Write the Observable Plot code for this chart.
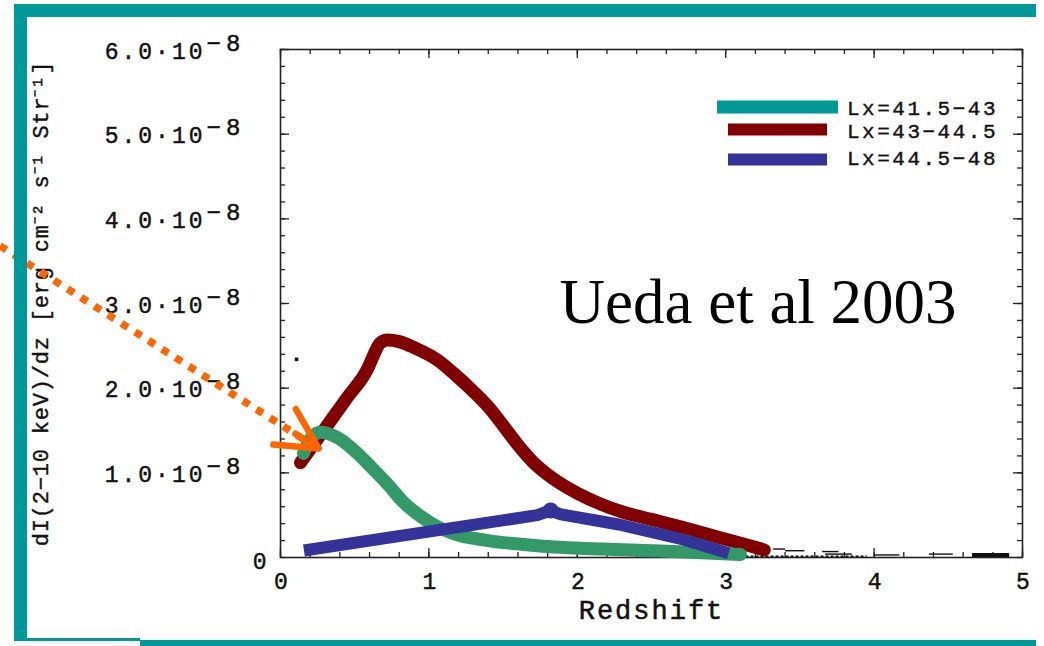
<!DOCTYPE html>
<html>
<head>
<meta charset="utf-8">
<script src="https://cdn.jsdelivr.net/npm/d3@7"></script>
<script src="https://cdn.jsdelivr.net/npm/@observablehq/plot@0.6"></script>
<style>
  body { margin: 0; background: #fff; }
  #wrap { position: relative; width: 1044px; height: 646px; overflow: hidden; background: #fff; }
  #wrap svg { position: absolute; left: 0; top: 0; }
  .band { position: absolute; background: #009999; }
</style>
</head>
<body>
<div id="wrap"></div>
<script>
// Luminosity classes (log Lx ranges) and their colours
const seriesNames = ["Lx=41.5−43", "Lx=43−44.5", "Lx=44.5−48"];
const seriesColors = ["#339966", "#800000", "#333399"];
const legendColors = ["#009999", "#800000", "#333399"];

// dI/dz in units of 1e-8 erg cm^-2 s^-1 Str^-1, against redshift
const zLow = [0.155, 0.21, 0.27, 0.38, 0.50, 0.61, 0.72, 0.83, 0.95, 1.06, 1.17, 1.40, 1.73, 2.16, 2.50, 2.80, 3.10];
const vLow = [1.23, 1.42, 1.48, 1.42, 1.26, 1.07, 0.87, 0.65, 0.48, 0.36, 0.28, 0.20, 0.14, 0.10, 0.08, 0.06, 0.035];

const zMid = [0.135, 0.27, 0.45, 0.59, 0.63, 0.67, 0.72, 0.80, 0.90, 1.06, 1.17, 1.30, 1.40, 1.50, 1.60, 1.70, 1.80, 1.90, 2.00, 2.16, 2.30, 2.50, 2.72, 2.95, 3.18, 3.26];
const vMid = [1.12, 1.45, 1.89, 2.24, 2.40, 2.53, 2.57, 2.55, 2.48, 2.33, 2.17, 1.96, 1.78, 1.56, 1.33, 1.13, 0.98, 0.86, 0.76, 0.63, 0.54, 0.45, 0.35, 0.24, 0.13, 0.09];

const zHigh = [0.158, 1.73, 1.82, 1.89, 2.28, 2.72, 3.02];
const vHigh = [0.083, 0.50, 0.555, 0.51, 0.39, 0.21, 0.05];

// faint extra points and error dashes
const markZ = [0.108, 0.115];
const markV = [2.34, 1.10];
const dashZ1 = [3.32, 3.40, 3.65, 3.67, 4.00, 4.37];
const dashZ2 = [3.40, 3.53, 3.76, 3.85, 4.17, 4.53];
const dashV  = [0.10, 0.08, 0.07, 0.04, 0.03, 0.04];
const heavyZ1 = [4.66], heavyZ2 = [4.91], heavyV = [0.03];

// axis ticks
const xMajor = [0, 1, 2, 3, 4, 5];
const xLabels = ["0", "1", "2", "3", "4", "5"];
const xMinor = d3.range(0, 5.001, 0.2);
const yMajor = [1, 2, 3, 4, 5, 6];
const yMantissa = ["1.0·10", "2.0·10", "3.0·10", "4.0·10", "5.0·10", "6.0·10"];
const yExponent = ["−8", "−8", "−8", "−8", "−8", "−8"];
const yMinor = d3.range(0, 6.001, 0.2);
const unit = 1e-8;

const xTitle = "Redshift";
const yTitle = "dI(2−10 keV)/dz [erg cm⁻² s⁻¹ Str⁻¹]";
const note = "Ueda et al 2003";

const toRows = (zs, vs) => zs.map((z, i) => ({z, v: vs[i] * unit}));
const low = toRows(zLow, vLow), mid = toRows(zMid, vMid), high = toRows(zHigh, vHigh);

const W = 1044, H = 646, mL = 280, mR = 22, mT = 49, mB = 89;
const fw = W - mL - mR, fh = H - mT - mB;
const ink = {fill: "#111", stroke: "#111"};
const tickFont = {fontFamily: "Liberation Mono", fontSize: 23, strokeWidth: 0.45, ...ink};

const chart = Plot.plot({
  width: W, height: H,
  marginLeft: mL, marginRight: mR, marginTop: mT, marginBottom: mB,
  x: {domain: [0, 5], axis: null},
  y: {domain: [0, 6e-8], axis: null},
  style: {background: "white", overflow: "visible"},
  marks: [
    Plot.frame({stroke: "#222", strokeWidth: 1.6}),
    // inward ticks on all four sides
    Plot.tickY(yMinor, {y: d => d * unit, insetRight: fw - 5, stroke: "#222", strokeWidth: 1.3}),
    Plot.tickY(yMinor, {y: d => d * unit, insetLeft: fw - 5, stroke: "#222", strokeWidth: 1.3}),
    Plot.tickY(yMajor, {y: d => d * unit, insetRight: fw - 9, stroke: "#222", strokeWidth: 1.3}),
    Plot.tickY(yMajor, {y: d => d * unit, insetLeft: fw - 9, stroke: "#222", strokeWidth: 1.3}),
    Plot.tickX(xMinor, {x: d => d, insetTop: fh - 5, stroke: "#222", strokeWidth: 1.3}),
    Plot.tickX(xMinor, {x: d => d, insetBottom: fh - 5, stroke: "#222", strokeWidth: 1.3}),
    Plot.tickX(xMajor, {x: d => d, insetTop: fh - 9, stroke: "#222", strokeWidth: 1.3}),
    Plot.tickX(xMajor, {x: d => d, insetBottom: fh - 9, stroke: "#222", strokeWidth: 1.3}),
    // y tick labels written as mantissa·10 with a raised exponent
    Plot.text(yMajor, {y: d => d * unit, text: (d, i) => yMantissa[i], frameAnchor: "left", textAnchor: "end",
      lineAnchor: "bottom", dx: -75, dy: 9, ...tickFont}),
    Plot.text(yMajor, {y: d => d * unit, text: (d, i) => yExponent[i], frameAnchor: "left", textAnchor: "start",
      lineAnchor: "bottom", dx: -74, dy: 1, ...tickFont, fontSize: 24}),
    Plot.text([0], {y: 0, text: () => "0", frameAnchor: "left", textAnchor: "end",
      lineAnchor: "bottom", dx: -11, dy: 11, ...tickFont}),
    Plot.text(xMajor, {x: d => d, text: (d, i) => xLabels[i], frameAnchor: "bottom", textAnchor: "middle",
      lineAnchor: "bottom", dx: 2, dy: 31, ...tickFont}),
    Plot.text([xTitle], {frameAnchor: "bottom", textAnchor: "middle", lineAnchor: "bottom", dx: 0, dy: 61,
      fontFamily: "Liberation Mono", fontSize: 27, strokeWidth: 0.5, ...ink}),
    Plot.text([yTitle], {frameAnchor: "left", textAnchor: "middle", lineAnchor: "middle", rotate: -90, dx: -240,
      fontFamily: "Liberation Mono", fontSize: 22, strokeWidth: 0.4, ...ink}),
    // faint points and dashes
    Plot.dot(markZ.map((z, i) => ({z, v: markV[i] * unit})), {x: "z", y: "v", symbol: "square", r: 2, fill: "#111"}),
    Plot.link(dashZ1.map((z, i) => ({a: z, b: dashZ2[i], v: dashV[i] * unit})),
      {x1: "a", x2: "b", y1: "v", y2: "v", stroke: "#111", strokeWidth: 1.4}),
    Plot.link(heavyZ1.map((z, i) => ({a: z, b: heavyZ2[i], v: heavyV[i] * unit})),
      {x1: "a", x2: "b", y1: "v", y2: "v", stroke: "#111", strokeWidth: 4}),
    Plot.link([{a: 3.1, b: 3.95}], {x1: "a", x2: "b", y1: () => 0.012 * unit, y2: () => 0.012 * unit,
      stroke: "#111", strokeWidth: 2, strokeDasharray: "3,2"}),
    // luminosity-class curves
    Plot.line(mid, {x: "z", y: "v", stroke: seriesColors[1], strokeWidth: 13, curve: "monotone-x",
      strokeLinecap: "round", strokeLinejoin: "round"}),
    Plot.line(low, {x: "z", y: "v", stroke: seriesColors[0], strokeWidth: 13, curve: "monotone-x",
      strokeLinecap: "round", strokeLinejoin: "round"}),
    Plot.line(high, {x: "z", y: "v", stroke: seriesColors[2], strokeWidth: 12, curve: "linear",
      strokeLinecap: "butt", strokeLinejoin: "round"}),
    Plot.dot([high[2]], {x: "z", y: "v", r: 8, fill: seriesColors[2]}),
    // annotation
    Plot.text([note], {x: 1.88, y: 2.77e-8, textAnchor: "start", lineAnchor: "bottom",
      fontFamily: "Liberation Serif", fontSize: 63, fill: "#000"}),
    Plot.link([0], {x1: -1.89, y1: 3.68e-8, x2: 0.17, y2: 1.38e-8, stroke: "#ff6600", strokeWidth: 7.5,
      strokeDasharray: "7.5,8.5"}),
    Plot.arrow([0], {x1: -1.89, y1: 3.68e-8, x2: 0.257, y2: 1.287e-8, insetStart: 350, stroke: "#ff6600",
      strokeWidth: 6.5, headLength: 10.5, headAngle: 55})
  ]
});

const wrap = document.getElementById("wrap");
wrap.appendChild(chart);

// wider spacing for the monospaced labels
const svg = d3.select(chart);
svg.selectAll("g[font-size='23'] text").attr("letter-spacing", 3);
svg.selectAll("g[font-size='24'] text").attr("letter-spacing", 5);
svg.selectAll("g[font-size='27'] text").attr("letter-spacing", 2);
svg.selectAll("g[font-size='22'] text").attr("letter-spacing", 0.8);

// legend, top right inside the frame
const lg = svg.append("g").attr("text-anchor", "start");
const rows = [
  {x1: 717, x2: 838, y: 107, w: 13, ty: 115},
  {x1: 728, x2: 827, y: 129.5, w: 12, ty: 138},
  {x1: 728, x2: 827, y: 159.5, w: 12, ty: 165}
];
rows.forEach((r, i) => {
  lg.append("line").attr("x1", r.x1).attr("x2", r.x2).attr("y1", r.y).attr("y2", r.y)
    .attr("stroke", legendColors[i]).attr("stroke-width", r.w);
  lg.append("text").attr("x", 847).attr("y", r.ty).text(seriesNames[i])
    .attr("text-anchor", "start")
    .attr("font-family", "Liberation Mono").attr("font-size", 21).attr("letter-spacing", 2.5)
    .attr("fill", "#111").attr("stroke", "#111").attr("stroke-width", 0.4);
});

// slide border bands
[
  {l: 14, t: 4, w: 1022, h: 13},
  {l: 14, t: 4, w: 13, h: 636},
  {l: 14, t: 638, w: 126, h: 3},
  {l: 140, t: 640, w: 896, h: 6}
].forEach(b => {
  const d = document.createElement("div");
  d.className = "band";
  Object.assign(d.style, {left: b.l + "px", top: b.t + "px", width: b.w + "px", height: b.h + "px"});
  wrap.appendChild(d);
});
</script>
</body>
</html>
